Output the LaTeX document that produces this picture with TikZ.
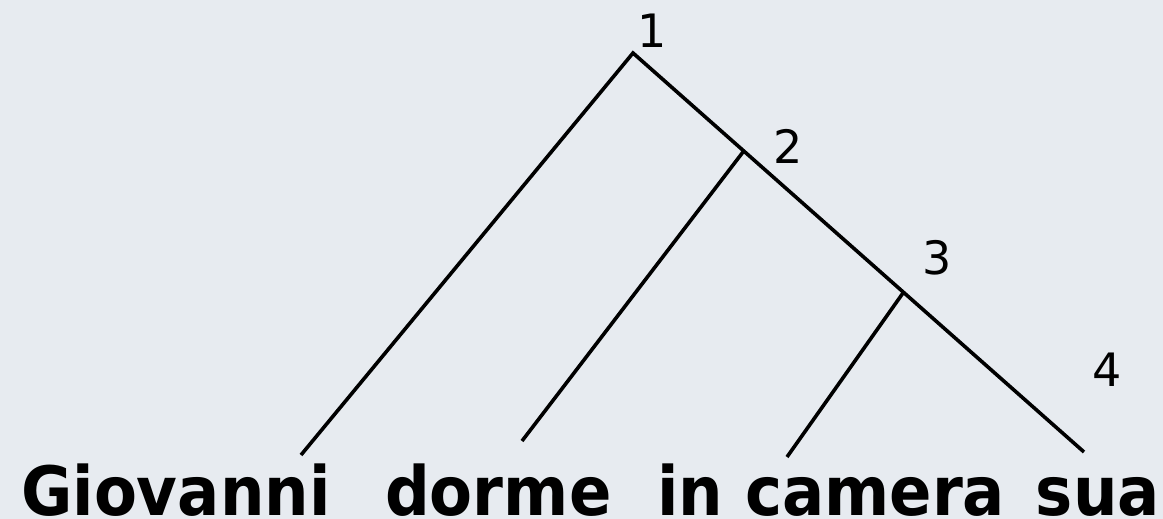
\documentclass[tikz,border=0pt]{standalone}
\usepackage{fontspec}
\setmainfont{DejaVu Sans}
\definecolor{paper}{HTML}{E7EBF0}
\newcommand{\narrowword}[1]{\scalebox{0.92}[1]{#1}}
\begin{document}
\begin{tikzpicture}[x=1pt,y=-1pt,
  branch/.style={line width=3.6pt,black},
  num/.style={font=\fontsize{46}{46}\selectfont,inner sep=0pt,anchor=center},
  word/.style={font=\fontsize{68}{68}\selectfont\bfseries,inner sep=0pt,anchor=base west}]
\fill[paper] (0,0) rectangle (1163,519);
\useasboundingbox (0,0) rectangle (1163,519);
\coordinate (n1) at (633,53);
\coordinate (n2) at (743,152);
\coordinate (n3) at (903,293);
\coordinate (a) at (301,455);
\coordinate (b) at (522,441);
\coordinate (c) at (787,457);
\coordinate (d) at (1084,452);
\draw[branch] (a) -- (n1) -- (d);
\draw[branch] (n2) -- (b);
\draw[branch] (n3) -- (c);
\node[num] (l1) at (652,31) {1};
\node[num] (l2) at (788,146) {2};
\node[num] (l3) at (937,258) {3};
\node[num] (l4) at (1107,370) {4};
\node[word] (w1) at (21,515) {\narrowword{Giovanni}};
\node[word] (w2) at (385,515) {\narrowword{dorme}};
\node[word] (w3) at (657,515) {\narrowword{in}};
\node[word] (w4) at (745,515) {\narrowword{camera}};
\node[word,anchor=base east] (w5) at (1160,515) {\narrowword{sua}};
\end{tikzpicture}
\end{document}
